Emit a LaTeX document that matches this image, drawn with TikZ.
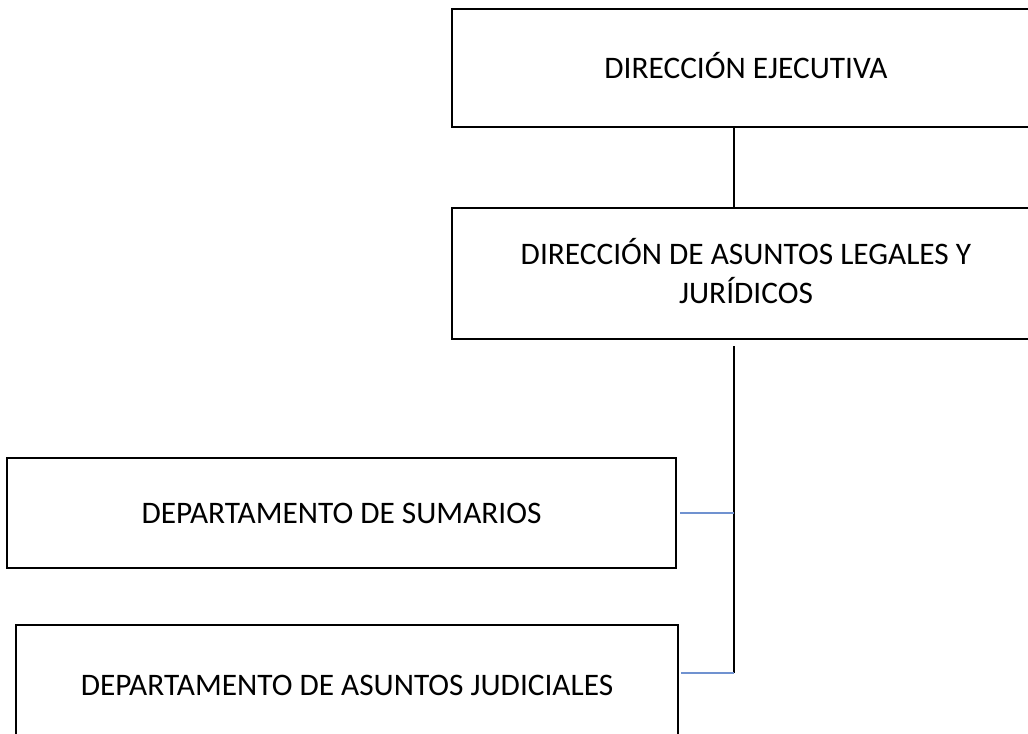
\documentclass[tikz,border=0pt]{standalone}
\usepackage{fontspec}
\setmainfont{Carlito}
\definecolor{linkblue}{RGB}{112,146,208}
\tikzset{
  unit/.style={draw, line width=1.5pt, align=center, inner sep=0pt,
    font=\fontsize{23.5}{29.3}\selectfont, text height=15.1pt, text depth=0pt},
  link/.style={line width=1.5pt},
  branch/.style={draw=linkblue, line width=1.1pt}
}
\begin{document}
\begin{tikzpicture}[x=0.75pt,y=-0.75pt]
  \useasboundingbox (0,0) rectangle (1028,734);
  \clip (0,0) rectangle (1028,734);
  \node[unit, minimum width=441pt, minimum height=88.5pt] (ejec) at (746,68) {DIRECCIÓN EJECUTIVA};
  \node[unit, minimum width=441pt, minimum height=98.25pt, text height=44.4pt] (legal) at (746,273.5) {DIRECCIÓN DE ASUNTOS LEGALES Y\\JURÍDICOS};
  \node[unit, minimum width=501.75pt, minimum height=82.5pt] (sum) at (341.5,513) {DEPARTAMENTO DE SUMARIOS};
  \node[unit, minimum width=496.5pt, minimum height=90pt] (jud) at (347,685) {DEPARTAMENTO DE ASUNTOS JUDICIALES};
  \coordinate (trunk) at (734,346);
  \coordinate (foot) at (734,673);
  \draw[link] (ejec.south -| trunk) -- (legal.north -| trunk);
  \draw[link] (trunk) -- (foot);
  \draw[branch] ([xshift=2.25pt]sum.east) -- (sum.east -| trunk);
  \draw[branch] (foot) -- ([xshift=1.5pt]foot -| jud.east);
\end{tikzpicture}
\end{document}
